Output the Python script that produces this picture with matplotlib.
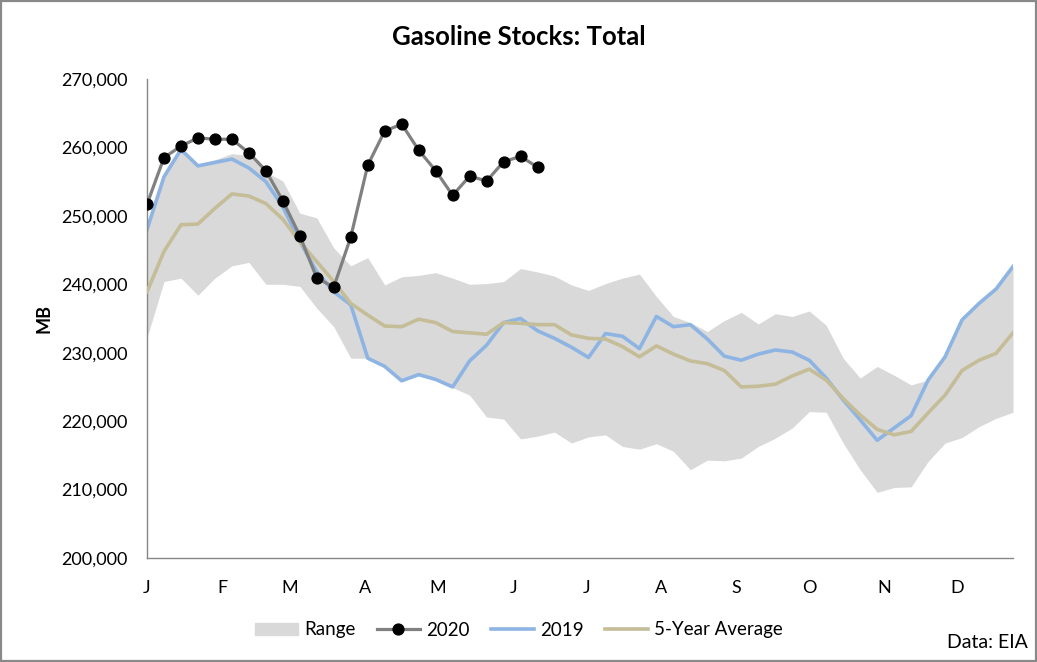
import matplotlib
matplotlib.use("Agg")
import matplotlib.pyplot as plt
import matplotlib.patches as mpatches
from matplotlib.lines import Line2D
from matplotlib.ticker import FuncFormatter
import numpy as np

plt.rcParams['font.family'] = ['Lato', 'DejaVu Sans']

# weekly values, thousand barrels (MB)
months = ['J', 'F', 'M', 'A', 'M', 'J', 'J', 'A', 'S', 'O', 'N', 'D']
month_days = [0, 31, 59, 90, 120, 151, 181, 212, 243, 273, 304, 334]

range_hi = [248.0, 255.7, 259.7, 257.6, 258.2, 259.1, 258.8, 256.4, 255.1, 250.4,
            249.7, 245.3, 242.7, 243.9, 239.9, 241.1, 241.3, 241.7, 240.9, 240.0,
            240.1, 240.4, 242.3, 241.8, 241.2, 239.9, 239.1, 240.1, 240.9, 241.5,
            238.2, 235.3, 234.4, 233.1, 234.7, 235.9, 234.2, 235.7, 235.3, 236.1,
            234.0, 229.2, 226.3, 228.0, 226.7, 225.3, 226.0, 229.4, 234.8, 237.2,
            239.3, 242.6]
range_lo = [232.2, 240.4, 240.9, 238.4, 240.9, 242.7, 243.2, 240.0, 240.0, 239.7,
            236.5, 233.8, 229.2, 229.2, 228.0, 225.9, 226.8, 226.1, 224.9, 223.8,
            220.6, 220.3, 217.4, 217.8, 218.4, 216.8, 217.7, 218.0, 216.3, 215.9,
            216.7, 215.6, 212.9, 214.3, 214.2, 214.6, 216.3, 217.5, 219.0, 221.4,
            221.3, 216.8, 212.9, 209.6, 210.3, 210.4, 214.1, 216.8, 217.6, 219.2,
            220.4, 221.3]
stocks_2020 = [251.7, 258.5, 260.2, 261.4, 261.2, 261.2, 259.2, 256.6, 252.2, 247.1,
               240.9, 239.6, 246.9, 257.4, 262.4, 263.4, 259.6, 256.6, 253.0, 255.8,
               255.1, 257.9, 258.7, 257.1]
stocks_2019 = [248.0, 255.7, 259.7, 257.3, 257.8, 258.3, 257.0, 255.0, 251.3, 246.3,
               241.8, 238.9, 237.0, 229.2, 228.0, 225.9, 226.8, 226.1, 225.0, 228.8,
               231.1, 234.4, 235.0, 233.2, 232.1, 230.8, 229.3, 232.8, 232.4, 230.6,
               235.3, 233.8, 234.1, 232.0, 229.5, 228.9, 229.8, 230.4, 230.1, 228.9,
               226.3, 223.1, 220.2, 217.2, 219.0, 220.8, 226.0, 229.4, 234.8, 237.2,
               239.3, 242.6]
avg_5yr = [238.9, 244.8, 248.7, 248.8, 251.1, 253.2, 252.9, 251.8, 249.5, 246.2,
           243.3, 240.4, 237.2, 235.5, 233.9, 233.8, 234.9, 234.4, 233.1, 232.9,
           232.7, 234.4, 234.3, 234.1, 234.1, 232.6, 232.1, 232.0, 230.9, 229.4,
           231.0, 229.8, 228.8, 228.4, 227.4, 225.0, 225.1, 225.4, 226.6, 227.6,
           226.0, 223.3, 220.9, 218.8, 218.0, 218.5, 221.2, 223.8, 227.4, 228.9,
           229.9, 232.9]

wk = np.arange(len(range_hi))
k = 1000

fig = plt.figure(figsize=(10.37, 6.62), dpi=100)
ax = fig.add_axes([147 / 1037, 1 - 558 / 662, (1013 - 147) / 1037, (558 - 79) / 662])

ax.fill_between(wk, np.array(range_lo) * k, np.array(range_hi) * k,
                color='#d9d9d9', linewidth=0, zorder=1)
ax.plot(wk, np.array(stocks_2019) * k, color='#8db4e2', lw=2.6, zorder=2)
ax.plot(wk, np.array(avg_5yr) * k, color='#c4bd97', lw=2.6, zorder=3)
ax.plot(np.arange(len(stocks_2020)), np.array(stocks_2020) * k, color='#808080',
        lw=2.3, marker='o', ms=7.8, mfc='black', mec='black', zorder=4)

ax.set_xlim(0, 51)
ax.set_ylim(200000, 270000)
ax.set_yticks(np.arange(200000, 270001, 10000))
ax.yaxis.set_major_formatter(FuncFormatter(lambda v, p: f'{int(v):,}'))
ax.set_xticks(np.array(month_days) / 7)
ax.set_xticklabels(months)
ax.tick_params(axis='both', length=0, labelsize=13, colors='black')
ax.tick_params(axis='y', pad=14)
ax.tick_params(axis='x', pad=16)
for s in ['top', 'right']:
    ax.spines[s].set_visible(False)
for s in ['left', 'bottom']:
    ax.spines[s].set_color('#868686')
    ax.spines[s].set_linewidth(1)
ax.set_ylabel('MB', fontsize=13, fontweight='bold', labelpad=6)

fig.text(0.5, 1 - 37 / 662, 'Gasoline Stocks: Total', ha='center', va='center',
         fontsize=18.5, fontweight='bold')
fig.text(1028 / 1037, 1 - 642 / 662, 'Data: EIA', ha='right', va='center', fontsize=14)

handles = [
    mpatches.Patch(color='#d9d9d9', label='Range'),
    Line2D([], [], color='#808080', lw=2.3, marker='o', ms=7.8, mfc='black',
           mec='black', label='2020'),
    Line2D([], [], color='#8db4e2', lw=2.6, label='2019'),
    Line2D([], [], color='#c4bd97', lw=2.6, label='5-Year Average'),
]
fig.legend(handles=handles, loc='center', bbox_to_anchor=(519 / 1037, 1 - 630 / 662),
           ncol=4, frameon=False, fontsize=13.5, handlelength=2.3, handleheight=0.6,
           handletextpad=0.35, columnspacing=1.1)

fig.patches.append(mpatches.Rectangle((0.001, 0.0015), 0.998, 0.997, transform=fig.transFigure,
                                      fill=False, edgecolor='#898989', lw=1.6))

fig.savefig('out.png', dpi=100)
